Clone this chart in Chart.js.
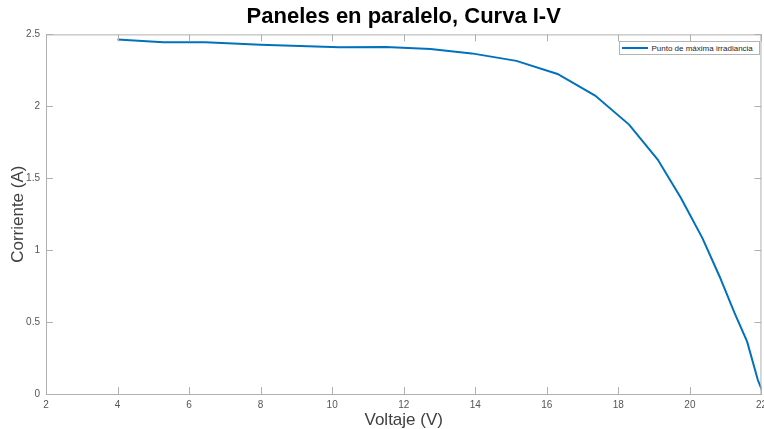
<!DOCTYPE html>
<html>
<head>
<meta charset="utf-8">
<script src="https://cdn.jsdelivr.net/npm/chart.js@4.4.1/dist/chart.umd.min.js"></script>
<style>
  html, body { margin: 0; padding: 0; background: #fff; overflow: hidden; }
  #wrap { position: relative; width: 772px; height: 429px; }
  #legend {
    position: absolute; border: 1px solid #b4b4b4; background: #fff;
    font: 8px "Liberation Sans", Arial, sans-serif; color: #262626;
    display: flex; align-items: center; padding: 0 4px 0 2px; box-sizing: border-box;
  }
  #legend .swatch { display: inline-block; width: 26px; height: 2px; margin-right: 3px; }
</style>
</head>
<body>
<div id="wrap">
  <canvas id="iv-chart" width="772" height="429"></canvas>
  <div id="legend"></div>
</div>
<script>
// Curva I-V (voltaje en V, corriente en A)
const voltaje = [4, 5.28, 6.45, 8.0, 10.2, 11.5, 12.75, 13.9, 15.15, 16.3, 17.35, 18.3, 19.1, 19.75, 20.35, 20.83, 21.25, 21.6, 21.9, 22.03];
const corriente = [2.465, 2.446, 2.446, 2.428, 2.41, 2.412, 2.398, 2.368, 2.316, 2.225, 2.075, 1.873, 1.63, 1.363, 1.084, 0.817, 0.562, 0.364, 0.097, 0.016];
const serieNombre = "Punto de máxima irradiancia";
const xTicks = [2, 4, 6, 8, 10, 12, 14, 16, 18, 20, 22];
const yTicks = [0, 0.5, 1, 1.5, 2, 2.5];

const axisColor = "#b0b0b0";
const labelColor = "#555555";
const fontFamily = "'Liberation Sans', Arial, sans-serif";

// MATLAB-style box with inward ticks
const matlabBox = {
  id: "matlabBox",
  afterLayout(chart) {
    // center the title on the plot area
    const a = chart.chartArea;
    chart.titleBlock.left = a.left;
    chart.titleBlock.right = a.right;
    chart.titleBlock.width = a.right - a.left;
  },
  afterDraw(chart) {
    const ctx = chart.ctx;
    const a = chart.chartArea;
    const x = chart.scales.x;
    const y = chart.scales.y;
    const len = 7;
    ctx.save();
    ctx.strokeStyle = axisColor;
    ctx.lineWidth = 1;
    ctx.beginPath();
    ctx.moveTo(a.left, a.top + 0.5);
    ctx.lineTo(a.right, a.top + 0.5);
    ctx.moveTo(a.right - 0.5, a.top);
    ctx.lineTo(a.right - 0.5, a.bottom);
    x.ticks.forEach((t) => {
      const px = Math.round(x.getPixelForValue(t.value)) + 0.5;
      ctx.moveTo(px, a.bottom);
      ctx.lineTo(px, a.bottom - len);
      ctx.moveTo(px, a.top);
      ctx.lineTo(px, a.top + len);
    });
    y.ticks.forEach((t) => {
      const py = Math.round(y.getPixelForValue(t.value)) + 0.5;
      ctx.moveTo(a.left, py);
      ctx.lineTo(a.left + len, py);
      ctx.moveTo(a.right, py);
      ctx.lineTo(a.right - len, py);
    });
    ctx.stroke();
    ctx.restore();
  },
};

const chart = new Chart(document.getElementById("iv-chart"), {
  type: "line",
  data: {
    datasets: [
      {
        label: serieNombre,
        data: voltaje.map((v, i) => ({ x: v, y: corriente[i] })),
        borderColor: "#0072BD",
        backgroundColor: "#0072BD",
        borderWidth: 2,
        pointRadius: 0,
        tension: 0,
      },
    ],
  },
  options: {
    responsive: false,
    animation: false,
    layout: { padding: { left: 0, right: 10, top: 0, bottom: 0 } },
    plugins: {
      legend: { display: false },
      tooltip: { enabled: false },
      title: {
        display: true,
        text: "Paneles en paralelo, Curva I-V",
        color: "#000",
        font: { size: 22, weight: "bold", family: fontFamily, lineHeight: 1.2 },
        padding: { top: 4, bottom: 4 },
      },
    },
    scales: {
      x: {
        type: "linear",
        min: 2,
        max: 22,
        afterBuildTicks(scale) {
          scale.ticks = xTicks.map((v) => ({ value: v }));
        },
        afterFit(scale) {
          scale.height = 35;
        },
        grid: { display: false, drawTicks: false },
        border: { display: true, color: axisColor, width: 1 },
        ticks: {
          color: labelColor,
          font: { size: 10, family: fontFamily },
          padding: 5,
          maxRotation: 0,
          callback: (v) => String(v),
        },
        title: {
          display: true,
          text: "Voltaje (V)",
          color: "#404040",
          font: { size: 17, family: fontFamily, lineHeight: 1 },
          padding: { top: 0, bottom: 0 },
        },
      },
      y: {
        type: "linear",
        min: 0,
        max: 2.5,
        afterBuildTicks(scale) {
          scale.ticks = yTicks.map((v) => ({ value: v }));
        },
        afterFit(scale) {
          scale.width = 46;
        },
        grid: { display: false, drawTicks: false },
        border: { display: true, color: axisColor, width: 1 },
        ticks: {
          color: labelColor,
          font: { size: 10, family: fontFamily },
          padding: 6,
          callback: (v) => String(v),
        },
        title: {
          display: true,
          text: "Corriente (A)",
          color: "#404040",
          font: { size: 17, family: fontFamily, lineHeight: 1.2 },
          padding: { top: 8, bottom: 0 },
        },
      },
    },
  },
  plugins: [matlabBox],
});

// legend box in the upper right of the plot area
function buildLegend() {
  const box = document.getElementById("legend");
  const ds = chart.data.datasets[0];
  box.innerHTML = `<span class="swatch" style="background:${ds.borderColor}"></span><span>${ds.label}</span>`;
  const a = chart.chartArea;
  box.style.left = a.right - 142 + "px";
  box.style.top = a.top + 7 + "px";
  box.style.width = "141px";
  box.style.height = "14px";
}

buildLegend();
</script>
</body>
</html>
